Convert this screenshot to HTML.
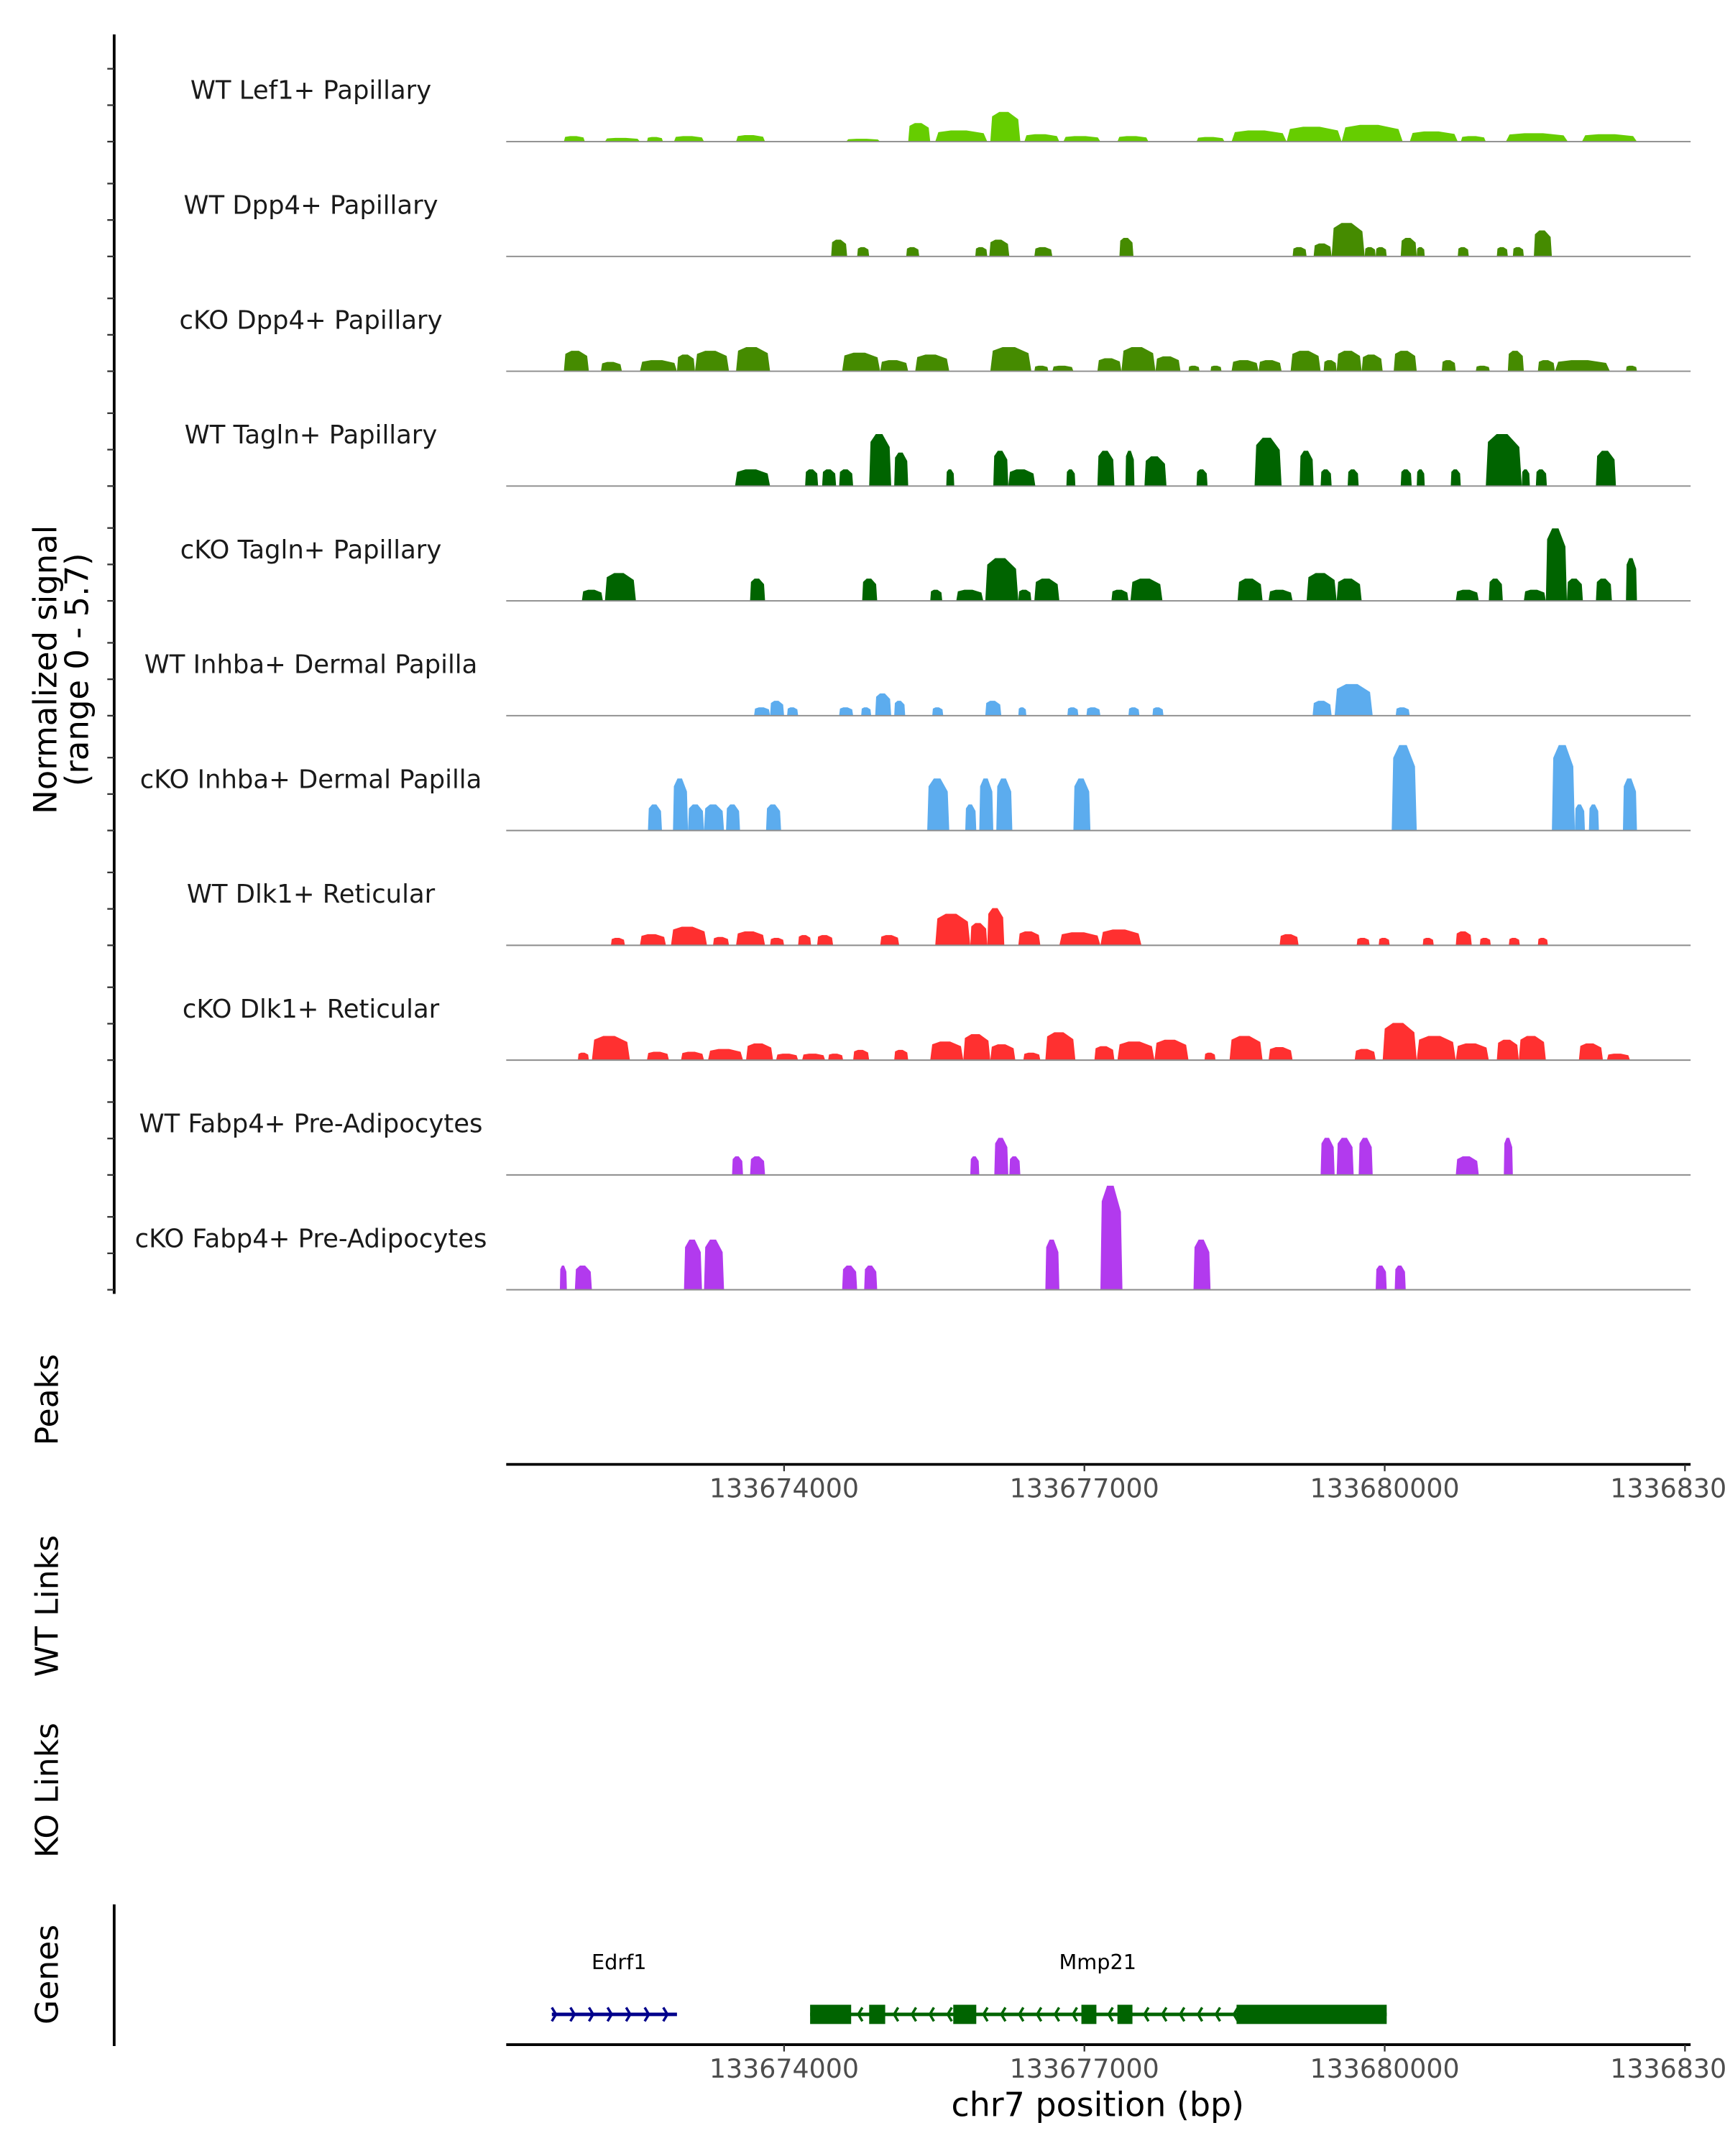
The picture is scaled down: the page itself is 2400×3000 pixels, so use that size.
<!DOCTYPE html>
<html><head><meta charset="utf-8"><style>
html,body{margin:0;padding:0;background:#fff;overflow:hidden;}
svg{display:block;}
text{font-family:"DejaVu Sans","Liberation Sans",sans-serif;}
</style></head><body>
<svg id="chart" width="2400" height="3000" viewBox="0 0 1254 1568" preserveAspectRatio="none" xmlns="http://www.w3.org/2000/svg"></svg>
<script>
// ---- data ----
const xTickValues = [133674000, 133677000, 133680000, 133683000];
const xTickLabels = ["133674000", "133677000", "133680000", "133683000"];
const trackNames = ["WT Lef1+ Papillary","WT Dpp4+ Papillary","cKO Dpp4+ Papillary","WT Tagln+ Papillary","cKO Tagln+ Papillary","WT Inhba+ Dermal Papilla","cKO Inhba+ Dermal Papilla","WT Dlk1+ Reticular","cKO Dlk1+ Reticular","WT Fabp4+ Pre-Adipocytes","cKO Fabp4+ Pre-Adipocytes"];
const trackColors = ["#66CD00","#458B00","#458B00","#006400","#006400","#5CACEE","#5CACEE","#FF3030","#FF3030","#B23AEE","#B23AEE"];
// peaks: [start kb, end kb, signal]
const lef1WT = [[133671.80,133672.01,0.3],[133672.21,133672.56,0.2],[133672.63,133672.79,0.25],[133672.90,133673.20,0.3],[133673.52,133673.81,0.35],[133674.62,133674.96,0.15],[133675.24,133675.46,1.0],[133675.51,133676.03,0.6],[133676.06,133676.36,1.6],[133676.40,133676.75,0.4],[133676.79,133677.16,0.3],[133677.33,133677.64,0.3],[133678.12,133678.40,0.25],[133678.47,133679.02,0.6],[133679.02,133679.57,0.8],[133679.57,133680.18,0.9],[133680.25,133680.73,0.55],[133680.76,133681.01,0.3],[133681.21,133681.83,0.45],[133681.97,133682.52,0.4]];
const dpp4WT = [[133674.47,133674.63,0.9],[133674.73,133674.85,0.5],[133675.22,133675.35,0.5],[133675.91,133676.03,0.5],[133676.05,133676.25,0.9],[133676.50,133676.68,0.5],[133677.35,133677.49,1.0],[133679.08,133679.22,0.5],[133679.29,133679.47,0.7],[133679.47,133679.80,1.8],[133679.80,133679.91,0.5],[133679.91,133680.02,0.5],[133680.16,133680.32,1.0],[133680.32,133680.40,0.5],[133680.73,133680.84,0.5],[133681.12,133681.23,0.5],[133681.28,133681.39,0.5],[133681.49,133681.67,1.4]];
const dpp4KO = [[133671.80,133672.05,1.1],[133672.17,133672.38,0.5],[133672.56,133672.93,0.6],[133672.93,133673.11,0.9],[133673.11,133673.45,1.1],[133673.52,133673.86,1.3],[133674.58,133674.96,1.0],[133674.96,133675.24,0.6],[133675.31,133675.65,0.9],[133676.06,133676.47,1.3],[133676.50,133676.64,0.3],[133676.68,133676.89,0.3],[133677.13,133677.37,0.7],[133677.37,133677.71,1.3],[133677.71,133677.96,0.8],[133678.04,133678.15,0.3],[133678.26,133678.37,0.3],[133678.47,133678.74,0.6],[133678.74,133678.97,0.6],[133679.06,133679.36,1.1],[133679.39,133679.52,0.6],[133679.52,133679.77,1.1],[133679.77,133679.98,0.9],[133680.09,133680.32,1.1],[133680.57,133680.71,0.6],[133680.91,133681.05,0.3],[133681.23,133681.39,1.1],[133681.53,133681.70,0.6],[133681.70,133682.25,0.6],[133682.41,133682.52,0.3]];
const taglnWT = [[133673.51,133673.86,0.9],[133674.21,133674.34,0.9],[133674.38,133674.52,0.9],[133674.55,133674.69,0.9],[133674.85,133675.07,2.8],[133675.10,133675.24,1.8],[133675.62,133675.70,0.9],[133676.09,133676.24,1.9],[133676.24,133676.51,0.9],[133676.82,133676.91,0.9],[133677.13,133677.30,1.9],[133677.41,133677.50,1.9],[133677.60,133677.82,1.6],[133678.12,133678.23,0.9],[133678.70,133678.97,2.6],[133679.15,133679.29,1.9],[133679.36,133679.47,0.9],[133679.63,133679.74,0.9],[133680.16,133680.27,0.9],[133680.32,133680.40,0.9],[133680.66,133680.76,0.9],[133681.01,133681.37,2.8],[133681.37,133681.45,0.9],[133681.51,133681.62,0.9],[133682.11,133682.31,1.9]];
const taglnKO = [[133671.98,133672.19,0.6],[133672.21,133672.52,1.5],[133673.66,133673.81,1.2],[133674.78,133674.93,1.2],[133675.46,133675.58,0.6],[133675.72,133675.99,0.6],[133676.01,133676.34,2.3],[133676.34,133676.47,0.6],[133676.50,133676.75,1.2],[133677.27,133677.44,0.6],[133677.46,133677.78,1.2],[133678.53,133678.78,1.2],[133678.84,133679.08,0.6],[133679.22,133679.52,1.5],[133679.52,133679.77,1.2],[133680.71,133680.94,0.6],[133681.04,133681.18,1.2],[133681.39,133681.61,0.6],[133681.61,133681.82,3.9],[133681.82,133681.98,1.2],[133682.11,133682.27,1.2],[133682.41,133682.52,2.3]];
const inhbaWT = [[133673.70,133673.86,0.45],[133673.86,133674.00,0.8],[133674.03,133674.14,0.45],[133674.55,133674.69,0.45],[133674.77,133674.87,0.45],[133674.91,133675.07,1.2],[133675.10,133675.21,0.8],[133675.48,133675.59,0.45],[133676.01,133676.17,0.8],[133676.34,133676.42,0.45],[133676.83,133676.94,0.45],[133677.02,133677.16,0.45],[133677.44,133677.55,0.45],[133677.68,133677.79,0.45],[133679.28,133679.47,0.8],[133679.50,133679.88,1.7],[133680.11,133680.25,0.45]];
const inhbaKO = [[133672.64,133672.78,1.4],[133672.89,133673.04,2.8],[133673.04,133673.20,1.4],[133673.20,133673.40,1.4],[133673.42,133673.56,1.4],[133673.82,133673.97,1.4],[133675.43,133675.65,2.8],[133675.81,133675.92,1.4],[133675.95,133676.09,2.8],[133676.12,133676.28,2.8],[133676.89,133677.06,2.8],[133680.07,133680.32,4.6],[133681.67,133681.90,4.6],[133681.90,133682.00,1.4],[133682.04,133682.14,1.4],[133682.38,133682.52,2.8]];
const dlk1WT = [[133672.27,133672.41,0.4],[133672.56,133672.82,0.6],[133672.87,133673.23,1.0],[133673.29,133673.45,0.45],[133673.52,133673.81,0.75],[133673.86,133674.00,0.4],[133674.14,133674.27,0.55],[133674.33,133674.49,0.55],[133674.96,133675.15,0.55],[133675.51,133675.86,1.7],[133675.86,133676.03,1.2],[133676.03,133676.20,2.0],[133676.34,133676.56,0.75],[133676.75,133677.16,0.7],[133677.16,133677.57,0.85],[133678.95,133679.14,0.6],[133679.72,133679.85,0.4],[133679.94,133680.05,0.4],[133680.38,133680.49,0.4],[133680.71,133680.87,0.75],[133680.95,133681.06,0.4],[133681.24,133681.35,0.4],[133681.53,133681.63,0.4]];
const dlk1KO = [[133671.94,133672.05,0.4],[133672.08,133672.46,1.3],[133672.63,133672.85,0.45],[133672.97,133673.20,0.45],[133673.24,133673.59,0.6],[133673.62,133673.89,0.9],[133673.92,133674.14,0.35],[133674.18,133674.41,0.35],[133674.44,133674.59,0.35],[133674.69,133674.85,0.55],[133675.10,133675.24,0.55],[133675.46,133675.79,1.0],[133675.79,133676.06,1.4],[133676.06,133676.31,0.85],[133676.39,133676.56,0.4],[133676.61,133676.91,1.5],[133677.10,133677.30,0.75],[133677.33,133677.70,1.0],[133677.70,133678.04,1.1],[133678.20,133678.31,0.4],[133678.45,133678.78,1.3],[133678.84,133679.08,0.7],[133679.70,133679.91,0.6],[133679.98,133680.32,2.0],[133680.32,133680.71,1.3],[133680.71,133681.04,0.9],[133681.12,133681.34,1.1],[133681.34,133681.61,1.3],[133681.94,133682.18,0.9],[133682.22,133682.45,0.35]];
const fabp4WT = [[133673.48,133673.59,1.0],[133673.66,133673.81,1.0],[133675.86,133675.95,1.0],[133676.10,133676.24,2.0],[133676.25,133676.36,1.0],[133679.36,133679.50,2.0],[133679.52,133679.69,2.0],[133679.74,133679.88,2.0],[133680.71,133680.94,1.0],[133681.19,133681.28,2.0]];
const fabp4KO = [[133671.76,133671.83,1.3],[133671.91,133672.08,1.3],[133673.00,133673.18,2.7],[133673.20,133673.40,2.7],[133674.58,133674.73,1.3],[133674.80,133674.93,1.3],[133676.61,133676.75,2.7],[133677.16,133677.38,5.6],[133678.09,133678.26,2.7],[133679.91,133680.02,1.3],[133680.10,133680.21,1.3]];
const trackPeaks = [lef1WT,dpp4WT,dpp4KO,taglnWT,taglnKO,inhbaWT,inhbaKO,dlk1WT,dlk1KO,fabp4WT,fabp4KO];
// genes: exons [start kb, end kb]
const edrf1Span = [133671.68, 133672.93];
const mmp21Span = [133674.26, 133680.02];
const mmp21Exons = [[133674.26,133674.67],[133674.85,133675.01],[133675.69,133675.92],[133676.97,133677.12],[133677.33,133677.48],[133678.52,133680.02]];

// ---- layout ----
const NS = "http://www.w3.org/2000/svg";
const svg = document.getElementById("chart");
const X0 = 368, X1 = 1229;
function xs(kb){ return 570 + (kb - 133674.0) * 72.77; }
const maxSignal = 5.7, trackH = 77, baseline0 = 103, trackStep = 83.5;
function ys(i, v){ return baseline0 + i*trackStep - v/maxSignal*trackH; }
function mk(tag, attrs, parent){
  const e = document.createElementNS(NS, tag);
  for (const k in attrs) e.setAttribute(k, attrs[k]);
  (parent||svg).appendChild(e); return e;
}
function txt(s, attrs, parent){ const t = mk("text", attrs, parent); t.textContent = s; return t; }

// left y axis
const yAxis = mk("line",{x1:83,y1:25,x2:83,y2:941,stroke:"#000","stroke-width":2});


for (let i=0;i<trackNames.length;i++){
  for (let k=0;k<3;k++){
    const yy = baseline0 + i*trackStep - k*26.5;
    const tk = mk("line",{x1:78,y1:yy,x2:83,y2:yy,stroke:"#333","stroke-width":1.2});
    
    
  }
}
const yt = mk("text",{x:0,y:0,transform:"translate(41,487) rotate(-90)","text-anchor":"middle","font-size":23.5,fill:"#000"});


const ts1 = mk("tspan",{x:0,dy:0},yt); ts1.textContent="Normalized signal";
const ts2 = mk("tspan",{x:0,dy:23},yt); ts2.textContent="(range 0 - 5.7)";

// tracks
for (let i=0;i<trackNames.length;i++){
  const g = mk("g",{});
  
  
  const b = baseline0 + i*trackStep;
  const lab = txt(trackNames[i],{x:226,y:b-31,"text-anchor":"middle","font-size":18.5,fill:"#1a1a1a"},g);
  
  
  for (const p of trackPeaks[i]){
    const s = xs(p[0]), e = xs(p[1]), w = e - s;
    const pts = [[s,b],[s+0.06*w,ys(i,p[2]*0.85)],[s+0.3*w,ys(i,p[2])],[s+0.6*w,ys(i,p[2])],[e-0.07*w,ys(i,p[2]*0.75)],[e,b]];
    const pk = mk("polygon",{points:pts.map(q=>q[0].toFixed(2)+","+q[1].toFixed(2)).join(" "),fill:trackColors[i]},g);
    
    
  }
  const bl = mk("line",{x1:X0,y1:b,x2:X1,y2:b,stroke:"#8c8c8c","stroke-width":1},g);
  
  
}

// row labels
const rowLabels = [["Peaks",1018],["WT Links",1168],["KO Links",1302],["Genes",1436]];
for (const r of rowLabels){
  const t = txt(r[0],{x:0,y:0,transform:"translate(42,"+r[1]+") rotate(-90)","text-anchor":"middle","font-size":23,fill:"#000"});
  
  
}

// x axes
function xAxis(y, name){
  const g = mk("g",{});
  
  
  mk("line",{x1:X0,y1:y,x2:X1,y2:y,stroke:"#000","stroke-width":2},g);
  for (let k=0;k<xTickValues.length;k++){
    const xx = xs(xTickValues[k]/1000);
    mk("line",{x1:xx,y1:y,x2:xx,y2:y+5,stroke:"#333","stroke-width":1.2},g);
    const t = txt(xTickLabels[k],{x:xx,y:y+24,"text-anchor":"middle","font-size":19,fill:"#4d4d4d"},g);
    
    
  }
}
xAxis(1065,'peaks-x-axis');
xAxis(1487,'genes-x-axis');
const xt = txt("chr7 position (bp)",{x:798,y:1539,"text-anchor":"middle","font-size":24,fill:"#000"});



// genes axis line
const ga = mk("line",{x1:83,y1:1385,x2:83,y2:1488,stroke:"#000","stroke-width":2});



// genes
const gy = 1465;
const eg = mk("g",{});


mk("line",{x1:xs(edrf1Span[0]),y1:gy,x2:xs(edrf1Span[1]),y2:gy,stroke:"#00008B","stroke-width":2.5},eg);
for (let xx = xs(edrf1Span[0])+3; xx <= xs(edrf1Span[1]); xx += 13.5){
  mk("polyline",{points:(xx-3)+","+(gy-5)+" "+xx+","+gy+" "+(xx-3)+","+(gy+5),fill:"none",stroke:"#00008B","stroke-width":1.8},eg);
}
const el = txt("Edrf1",{x:450,y:1432,"text-anchor":"middle","font-size":15,fill:"#000"},eg);



const mg = mk("g",{});


mk("line",{x1:xs(mmp21Span[0]),y1:gy,x2:xs(mmp21Span[1]),y2:gy,stroke:"#006400","stroke-width":2.5},mg);
for (let xx = xs(mmp21Span[0])+35; xx < xs(mmp21Exons[5][0]); xx += 13){
  mk("polyline",{points:(xx+3)+","+(gy-5)+" "+xx+","+gy+" "+(xx+3)+","+(gy+5),fill:"none",stroke:"#006400","stroke-width":1.8},mg);
}
for (const ex of mmp21Exons){
  const r = mk("rect",{x:xs(ex[0]),y:gy-7,width:xs(ex[1])-xs(ex[0]),height:14,fill:"#006400"},mg);
  
  
}
const ml = txt("Mmp21",{x:798,y:1432,"text-anchor":"middle","font-size":15,fill:"#000"},mg);


</script>
</body></html>
